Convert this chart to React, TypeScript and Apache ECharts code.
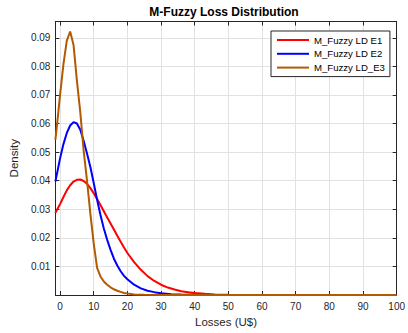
import React, { useEffect, useRef } from "react";
import * as echarts from "echarts";

const xTicks = [0, 10, 20, 30, 40, 50, 60, 70, 80, 90, 100];
const yTicks = [0.01, 0.02, 0.03, 0.04, 0.05, 0.06, 0.07, 0.08, 0.09];

const seriesNames = ["M_Fuzzy LD E1", "M_Fuzzy LD E2", "M_Fuzzy LD_E3"];

const e1X = [-1.4, 0, 1, 2, 3, 4, 5, 6, 7, 8, 9, 10, 11, 12, 13, 14, 15, 16, 17, 18, 19, 20, 22, 24, 26, 28, 30, 32, 34, 36, 38, 40, 43, 46, 50, 55, 60, 70, 80, 90, 100];
const e1Y = [0.0288, 0.0318, 0.0343, 0.0366, 0.0384, 0.0397, 0.0403, 0.0404, 0.0399, 0.0389, 0.0374, 0.0356, 0.0336, 0.0315, 0.0293, 0.0271, 0.025, 0.0229, 0.0207, 0.0186, 0.0166, 0.0147, 0.0115, 0.0088, 0.0066, 0.0049, 0.0036, 0.0026, 0.0019, 0.0013, 0.001, 0.0007, 0.0004, 0.0002, 0.0001, 0.00004, 0.00002, 0, 0, 0, 0];

const e2X = [-1.4, -1, 0, 1, 2, 3, 4, 5, 6, 7, 8, 9, 10, 11, 12, 13, 14, 15, 16, 17, 18, 19, 20, 22, 24, 26, 28, 30, 33, 36, 40, 45, 50, 60, 70, 80, 90, 100];
const e2Y = [0.0397, 0.042, 0.0478, 0.0528, 0.0567, 0.0593, 0.0605, 0.06, 0.0578, 0.054, 0.0495, 0.0448, 0.0392, 0.0333, 0.028, 0.0233, 0.0193, 0.0158, 0.0127, 0.0103, 0.0083, 0.0067, 0.0055, 0.0036, 0.0023, 0.0015, 0.001, 0.0006, 0.0003, 0.00015, 0.00005, 0, 0, 0, 0, 0, 0, 0];

const e3X = [-1.4, -1, 0, 1, 2, 3, 4, 5, 6, 7, 8, 9, 10, 11, 12, 13, 14, 15, 16, 17, 18, 19, 20, 22, 25, 30, 40, 50, 60, 70, 80, 90, 100];
const e3Y = [0.0543, 0.0585, 0.07, 0.0808, 0.089, 0.0922, 0.0875, 0.075, 0.064, 0.0505, 0.04, 0.0285, 0.018, 0.0095, 0.0065, 0.0047, 0.0036, 0.0027, 0.002, 0.0015, 0.0011, 0.0007, 0.0005, 0.0002, 0.00005, 0, 0, 0, 0, 0, 0, 0, 0];

const colors = ["#ff0000", "#0000ff", "#b35a00"];

export default function App() {
  const ref = useRef<HTMLDivElement>(null);
  useEffect(() => {
    const chart = echarts.init(ref.current!, null, { renderer: "svg" });
    const font = "'Liberation Sans', Arial, Helvetica, sans-serif";
    const axisColor = "#262626";
    const gridColor = "#e2e2e2";
    const pair = (xs: number[], ys: number[]) => xs.map((x, i) => [x, ys[i]]);
    const xMin = -1.4;
    const xMax = 100;
    const yMin = 0;
    const yMax = 0.0957;
    const data = [pair(e1X, e1Y), pair(e2X, e2Y), pair(e3X, e3Y)];
    chart.setOption({
      animation: false,
      backgroundColor: "#ffffff",
      title: {
        text: "M-Fuzzy Loss Distribution",
        left: 224,
        top: 6,
        padding: 0,
        textAlign: "center",
        textStyle: { fontSize: 12, fontWeight: "bold", color: "#000", fontFamily: font },
      },
      legend: {
        data: seriesNames,
        orient: "vertical",
        left: 271,
        top: 31,
        padding: [4, 5, 4, 5],
        itemWidth: 32,
        itemHeight: 10,
        itemGap: 3.8,
        itemStyle: { opacity: 0 },
        backgroundColor: "#ffffff",
        borderColor: axisColor,
        borderWidth: 1,
        borderRadius: 0,
        textStyle: { fontSize: 9.6, color: "#000", fontFamily: font, lineHeight: 10 },
      },
      grid: { left: 50, right: 10, top: 21.5, bottom: 37.5, containLabel: false },
      xAxis: [
        {
          type: "value",
          min: xMin,
          max: xMax,
          axisLine: { show: true, onZero: false, lineStyle: { color: axisColor, width: 1 } },
          axisTick: { show: true, inside: true, length: 4, customValues: xTicks, lineStyle: { color: axisColor } },
          axisLabel: { customValues: xTicks, color: axisColor, fontSize: 10, fontFamily: font, margin: 6 },
          splitLine: { show: true, lineStyle: { color: gridColor, width: 1 } },
          name: "Losses (U$)",
          nameLocation: "middle",
          nameGap: 21,
          nameTextStyle: { fontSize: 11.5, color: axisColor, fontFamily: font },
        },
        {
          type: "value",
          position: "top",
          min: xMin,
          max: xMax,
          axisLine: { show: true, onZero: false, lineStyle: { color: axisColor, width: 1 } },
          axisTick: { show: true, inside: true, length: 4, customValues: xTicks, lineStyle: { color: axisColor } },
          axisLabel: { show: false },
          splitLine: { show: false },
        },
      ],
      yAxis: [
        {
          type: "value",
          min: yMin,
          max: yMax,
          axisLine: { show: true, onZero: false, lineStyle: { color: axisColor, width: 1 } },
          axisTick: { show: true, inside: true, length: 4, customValues: yTicks, lineStyle: { color: axisColor } },
          axisLabel: {
            customValues: yTicks,
            color: axisColor,
            fontSize: 10,
            fontFamily: font,
            margin: 5,
            formatter: (v: number) => v.toFixed(2),
          },
          splitLine: { show: true, lineStyle: { color: gridColor, width: 1 } },
          name: "Density",
          nameLocation: "middle",
          nameGap: 28,
          nameTextStyle: { fontSize: 11.5, color: axisColor, fontFamily: font },
        },
        {
          type: "value",
          position: "right",
          min: yMin,
          max: yMax,
          axisLine: { show: true, onZero: false, lineStyle: { color: axisColor, width: 1 } },
          axisTick: { show: true, inside: true, length: 4, customValues: yTicks, lineStyle: { color: axisColor } },
          axisLabel: { show: false },
          splitLine: { show: false },
        },
      ],
      series: seriesNames.map((name, i) => ({
        name,
        type: "line",
        xAxisIndex: 0,
        yAxisIndex: 0,
        data: data[i],
        symbol: "none",
        showSymbol: false,
        smooth: false,
        color: colors[i],
        lineStyle: { color: colors[i], width: 2 },
      })),
    });
    return () => chart.dispose();
  }, []);
  return (
    <div
      ref={ref}
      style={{ position: "fixed", left: 0, top: 0, width: 408, height: 333, background: "#fff" }}
    />
  );
}
